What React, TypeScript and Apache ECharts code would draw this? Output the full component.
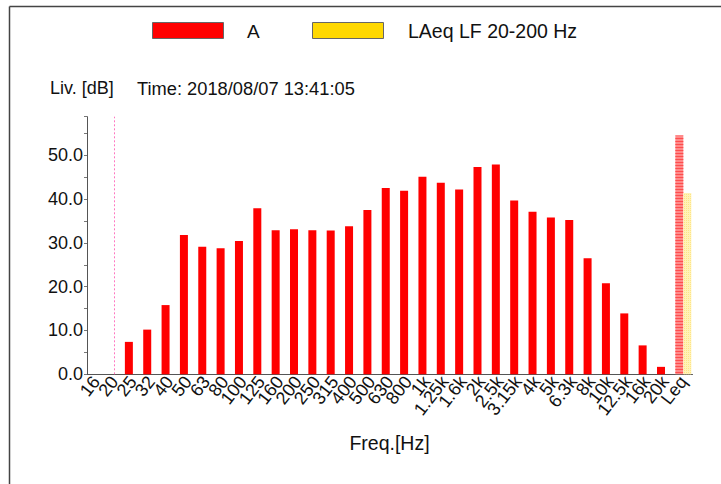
import React, { useEffect, useRef } from "react";
import * as echarts from "echarts";

const categories = ["16", "20", "25", "32", "40", "50", "63", "80", "100", "125", "160", "200", "250", "315", "400", "500", "630", "800", "1k", "1.25k", "1.6k", "2k", "2.5k", "3.15k", "4k", "5k", "6.3k", "8k", "10k", "12.5k", "16k", "20k", "Leq"];
const seriesAValues = [null, null, 7.4, 10.2, 15.8, 31.8, 29.1, 28.8, 30.4, 37.9, 32.9, 33.1, 32.9, 32.8, 33.8, 37.5, 42.5, 41.9, 45.1, 43.7, 42.2, 47.3, 47.9, 39.7, 37.1, 35.8, 35.2, 26.5, 20.8, 13.9, 6.6, 1.7, 54.5];
const seriesLFValues = [null, null, null, null, null, null, null, null, null, null, null, null, null, null, null, null, null, null, null, null, null, null, null, null, null, null, null, null, null, null, null, null, 41.4];
const seriesNames = ["A", "LAeq LF 20-200 Hz"];
const markerCategory = "20";
const yLabel = "Liv. [dB]";
const timeLabel = "Time: 2018/08/07 13:41:05";
const xLabel = "Freq.[Hz]";

const FONT = "'Liberation Sans', Arial, sans-serif";

export default function App() {
  const ref = useRef<HTMLDivElement>(null);
  useEffect(() => {
    if (!ref.current) return;
    const chart = echarts.init(ref.current, null, { renderer: "svg" });
    const last = categories.length - 1;
    const aData = seriesAValues.map((v, i) =>
      i === last
        ? {
            value: v,
            itemStyle: {
              color: "#ff8a8a",
              decal: { symbol: "rect", symbolSize: 1, dashArrayX: [1, 0], dashArrayY: [1, 2], color: "rgba(255,70,70,0.9)", rotation: 0 },
            },
          }
        : v
    );
    const lfData = seriesLFValues.map((v) =>
      v == null
        ? v
        : {
            value: v,
            itemStyle: {
              color: "#fff3b8",
              decal: { symbol: "rect", symbolSize: 1, dashArrayX: [1, 1], dashArrayY: [1, 1], color: "rgba(255,225,120,0.8)", rotation: 0 },
            },
          }
    );
    chart.setOption({
      animation: false,
      backgroundColor: "#ffffff",
      textStyle: { fontFamily: FONT },
      grid: { left: 87, right: 28.5, top: 116.7, bottom: 109.7, containLabel: false },
      xAxis: {
        type: "category",
        data: categories,
        boundaryGap: true,
        axisLine: { lineStyle: { color: "#555", width: 1 } },
        axisTick: { alignWithLabel: true, length: 3, lineStyle: { color: "#555" } },
        axisLabel: { interval: 0, rotate: 52, margin: 4, color: "#111", fontSize: 18, fontFamily: FONT },
        splitLine: { show: false },
      },
      yAxis: {
        type: "value",
        min: 0,
        max: 58.8,
        interval: 5,
        axisLine: { show: true, lineStyle: { color: "#555", width: 1 } },
        axisTick: { show: true, inside: false, length: 3, lineStyle: { color: "#777" } },
        axisLabel: {
          color: "#111",
          fontSize: 18,
          margin: 4,
          fontFamily: FONT,
          formatter: (v: number) => (Math.abs(v % 10) < 1e-6 ? v.toFixed(1) : ""),
        },
        splitLine: { show: false },
      },
      series: [
        {
          name: seriesNames[0],
          type: "bar",
          data: aData,
          barWidth: 8,
          barGap: "0%",
          itemStyle: { color: "#ff0000" },
        },
        {
          name: seriesNames[1],
          type: "bar",
          data: lfData,
          barWidth: 8,
          barGap: "0%",
          itemStyle: { color: "#ffd800" },
        },
        {
          name: "marker",
          type: "line",
          data: [],
          silent: true,
          markLine: {
            silent: true,
            symbol: "none",
            label: { show: false },
            lineStyle: { color: "#ff77c0", type: [2, 2], width: 1 },
            data: [{ xAxis: markerCategory }],
          },
        },
      ],
      graphic: [
        { type: "line", shape: { x1: 9.5, y1: 6.5, x2: 721, y2: 6.5 }, style: { stroke: "#444", lineWidth: 1.5 } },
        { type: "line", shape: { x1: 9.5, y1: 6.5, x2: 9.5, y2: 484 }, style: { stroke: "#444", lineWidth: 1.5 } },
        { type: "rect", shape: { x: 152.5, y: 22.5, width: 71, height: 16 }, style: { fill: "#ff0000", stroke: "#666", lineWidth: 1 } },
        { type: "text", x: 247, y: 31, style: { text: seriesNames[0], font: `19px ${FONT}`, fill: "#111", textVerticalAlign: "middle" } },
        { type: "rect", shape: { x: 312.5, y: 22.5, width: 71, height: 16 }, style: { fill: "#ffd800", stroke: "#666", lineWidth: 1 } },
        { type: "text", x: 408, y: 31, style: { text: seriesNames[1], font: `19.5px ${FONT}`, fill: "#111", textVerticalAlign: "middle" } },
        { type: "text", x: 50, y: 88, style: { text: yLabel, font: `18px ${FONT}`, fill: "#111", textVerticalAlign: "middle" } },
        { type: "text", x: 137, y: 88, style: { text: timeLabel, font: `18.3px ${FONT}`, fill: "#111", textVerticalAlign: "middle" } },
        { type: "text", x: 389.5, y: 443, style: { text: xLabel, font: `19.5px ${FONT}`, fill: "#111", textAlign: "center", textVerticalAlign: "middle" } },
      ],
    });
    return () => chart.dispose();
  }, []);
  return <div ref={ref} style={{ position: "fixed", left: 0, top: 0, width: 721, height: 484 }} />;
}
